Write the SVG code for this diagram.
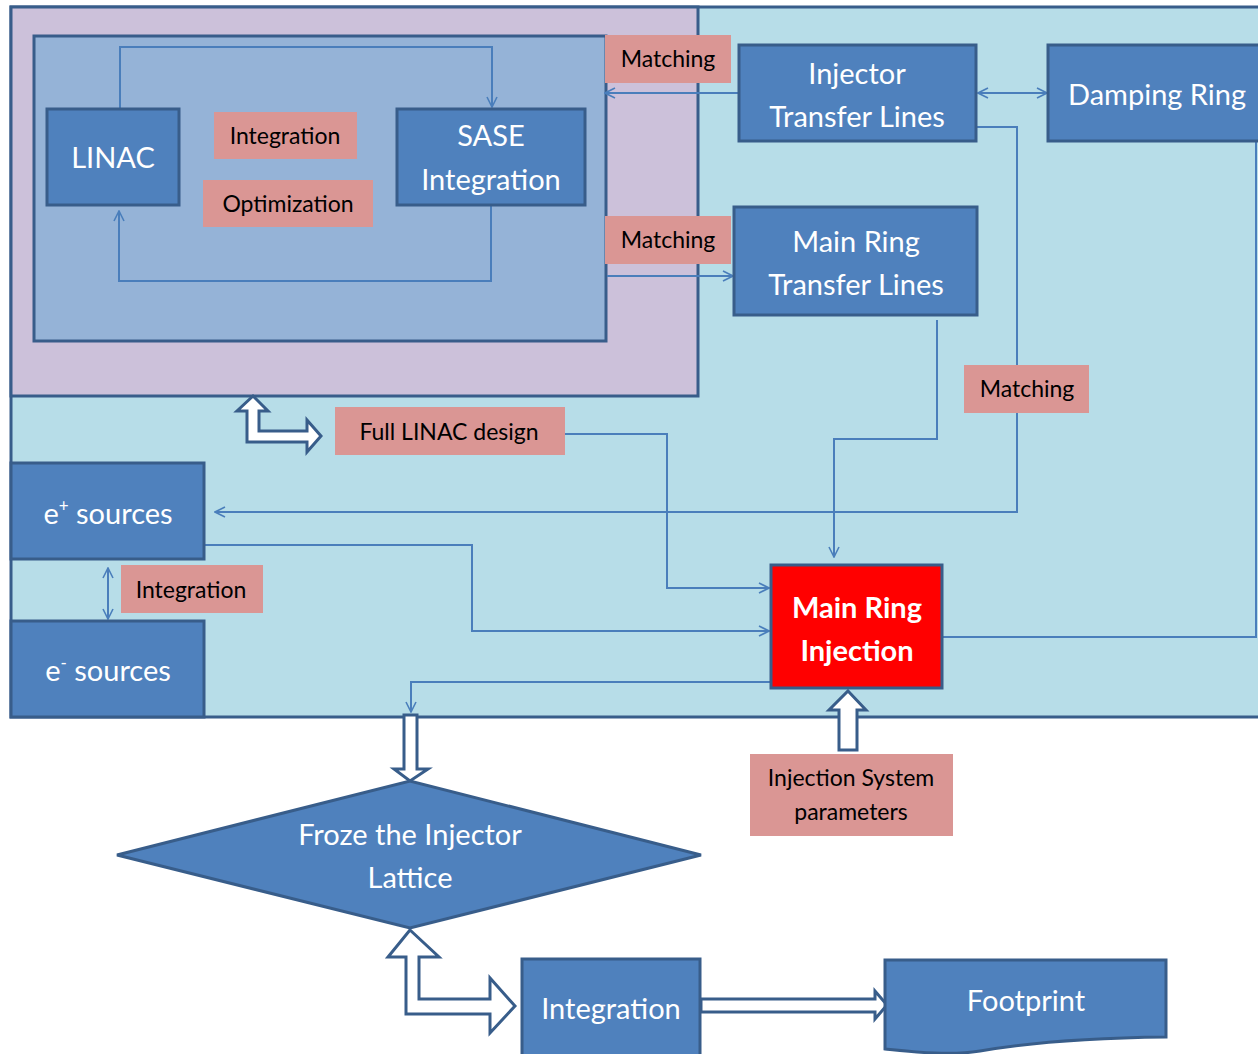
<svg xmlns="http://www.w3.org/2000/svg" width="1258" height="1054" viewBox="0 0 1258 1054">
<defs>
<style>
.box{fill:#4F81BD;stroke:#385D8A;stroke-width:3}
.lbl{fill:#DA9694}
.wt{font-family:Lato,"Open Sans",sans-serif;font-size:29px;fill:#FFFFFF;text-anchor:middle}
.bt{font-family:Lato,"Open Sans",sans-serif;font-size:23px;fill:#000000;text-anchor:middle}
.con{fill:none;stroke:#4A7EBB;stroke-width:2}
.blk{fill:#FFFFFF;stroke:#385D8A;stroke-width:3;stroke-linejoin:miter}
</style>
<marker id="ah" viewBox="0 0 12 12" refX="11" refY="6" markerWidth="12" markerHeight="12" markerUnits="userSpaceOnUse" orient="auto-start-reverse">
<path d="M1,1 L11,6 L1,11" fill="none" stroke="#4A7EBB" stroke-width="1.6"/>
</marker>
</defs>
<rect width="1258" height="1054" fill="#FFFFFF"/>
<g id="frame-outer"><rect x="11" y="7" width="1255" height="710" fill="#B7DDE8" stroke="#385D8A" stroke-width="3"/></g>
<g id="frame-linac"><rect x="11" y="7" width="687" height="389" fill="#CCC1DA" stroke="#385D8A" stroke-width="3"/></g>
<g id="frame-inner"><rect x="34" y="36" width="572" height="305" fill="#95B3D7" stroke="#385D8A" stroke-width="3"/></g>

<g id="connectors">
<path class="con" d="M120,109 V47 H492 V107" marker-end="url(#ah)"/>
<path class="con" d="M491,205 V281 H119 V211" marker-end="url(#ah)"/>
<path class="con" d="M739,93 H605" marker-end="url(#ah)"/>
<path class="con" d="M607,276 H733" marker-end="url(#ah)"/>
<path class="con" d="M978,93 H1047" marker-start="url(#ah)" marker-end="url(#ah)"/>
<path class="con" d="M965,127 H1017 V512 H215" marker-end="url(#ah)"/>
<path class="con" d="M937,320 V439 H834 V557" marker-end="url(#ah)"/>
<path class="con" d="M564,434 H667 V588 H769" marker-end="url(#ah)"/>
<path class="con" d="M175,545 H472 V631 H769" marker-end="url(#ah)"/>
<path class="con" d="M770,682 H411 V712" marker-end="url(#ah)"/>
<path class="con" d="M943,637 H1256 V141"/>
<path class="con" d="M108,568 V619" marker-start="url(#ah)" marker-end="url(#ah)"/>
<polygon class="blk" points="253,396 268,411 259,411 259,431 307,431 307,420 321,436 307,452 307,442 247,442 247,411 237,411"/>
<polygon class="blk" points="404,715 417,715 417,769 428,769 410,781 394,769 404,769"/>
<polygon class="blk" points="848,691 866,710 857,710 857,750 839,750 839,710 829,710"/>
<polygon class="blk" points="410,930 439,957 419,957 419,999 490,999 490,978 515,1006 490,1033 490,1014 406,1014 406,957 388,957"/>
<polygon class="blk" points="701,999 875,999 875,991 887,1005 875,1019 875,1012 701,1012"/>
</g>

<g id="linac"><rect class="box" x="47" y="109" width="132" height="96"/><text class="wt" x="113" y="168">LINAC</text></g>
<g id="sase"><rect class="box" x="397" y="109" width="188" height="96"/><text class="wt" x="491" y="146">SASE</text><text class="wt" x="491" y="190">Integration</text></g>
<g id="lbl-integration"><rect class="lbl" x="214" y="112" width="143" height="47"/><text class="bt" x="285" y="144">Integration</text></g>
<g id="lbl-optimization"><rect class="lbl" x="203" y="180" width="170" height="47"/><text class="bt" x="288" y="212">Optimization</text></g>
<g id="lbl-matching1"><rect class="lbl" x="605" y="35" width="126" height="48"/><text class="bt" x="668" y="67">Matching</text></g>
<g id="lbl-matching2"><rect class="lbl" x="605" y="216" width="126" height="48"/><text class="bt" x="668" y="248">Matching</text></g>
<g id="injector-tl"><rect class="box" x="739" y="45" width="237" height="96"/><text class="wt" x="857" y="84">Injector</text><text class="wt" x="857" y="127">Transfer Lines</text></g>
<g id="damping-ring"><rect class="box" x="1048" y="45" width="216" height="96"/><text class="wt" x="1157" y="105">Damping Ring</text></g>
<g id="main-ring-tl"><rect class="box" x="734" y="207" width="243" height="108"/><text class="wt" x="856" y="252">Main Ring</text><text class="wt" x="856" y="295">Transfer Lines</text></g>
<g id="lbl-matching3"><rect class="lbl" x="964" y="365" width="125" height="48"/><text class="bt" x="1027" y="397">Matching</text></g>
<g id="lbl-full-linac"><rect class="lbl" x="335" y="407" width="230" height="48"/><text class="bt" x="449" y="440">Full LINAC design</text></g>
<g id="e-plus"><rect class="box" x="11" y="463" width="193" height="96"/><text class="wt" x="108" y="524">e<tspan font-size="17" dy="-12">+</tspan><tspan dy="12"> sources</tspan></text></g>
<g id="lbl-integration2"><rect class="lbl" x="121" y="565" width="142" height="48"/><text class="bt" x="191" y="598">Integration</text></g>
<g id="e-minus"><rect class="box" x="11" y="621" width="193" height="96"/><text class="wt" x="108" y="681">e<tspan font-size="17" dy="-12">-</tspan><tspan dy="12"> sources</tspan></text></g>
<g id="main-ring-injection"><rect x="771" y="565" width="171" height="123" fill="#FF0000" stroke="#385D8A" stroke-width="3"/><text class="wt" x="857" y="618" font-weight="bold">Main Ring</text><text class="wt" x="857" y="661" font-weight="bold">Injection</text></g>
<g id="lbl-injection-params"><rect class="lbl" x="750" y="754" width="203" height="82"/><text class="bt" x="851" y="786">Injection System</text><text class="bt" x="851" y="820">parameters</text></g>
<g id="froze"><polygon class="box" points="117,855 410,781 701,855 410,928"/><text class="wt" x="410" y="845">Froze the Injector</text><text class="wt" x="410" y="888">Lattice</text></g>
<g id="integration-bottom"><rect class="box" x="522" y="959" width="178" height="100"/><text class="wt" x="611" y="1019">Integration</text></g>
<g id="footprint"><path class="box" d="M885,960 H1166 V1037 C1080,1038 1020,1044 980,1051 C950,1056 915,1052 885,1049 Z"/><text class="wt" x="1026" y="1011">Footprint</text></g>
</svg>
